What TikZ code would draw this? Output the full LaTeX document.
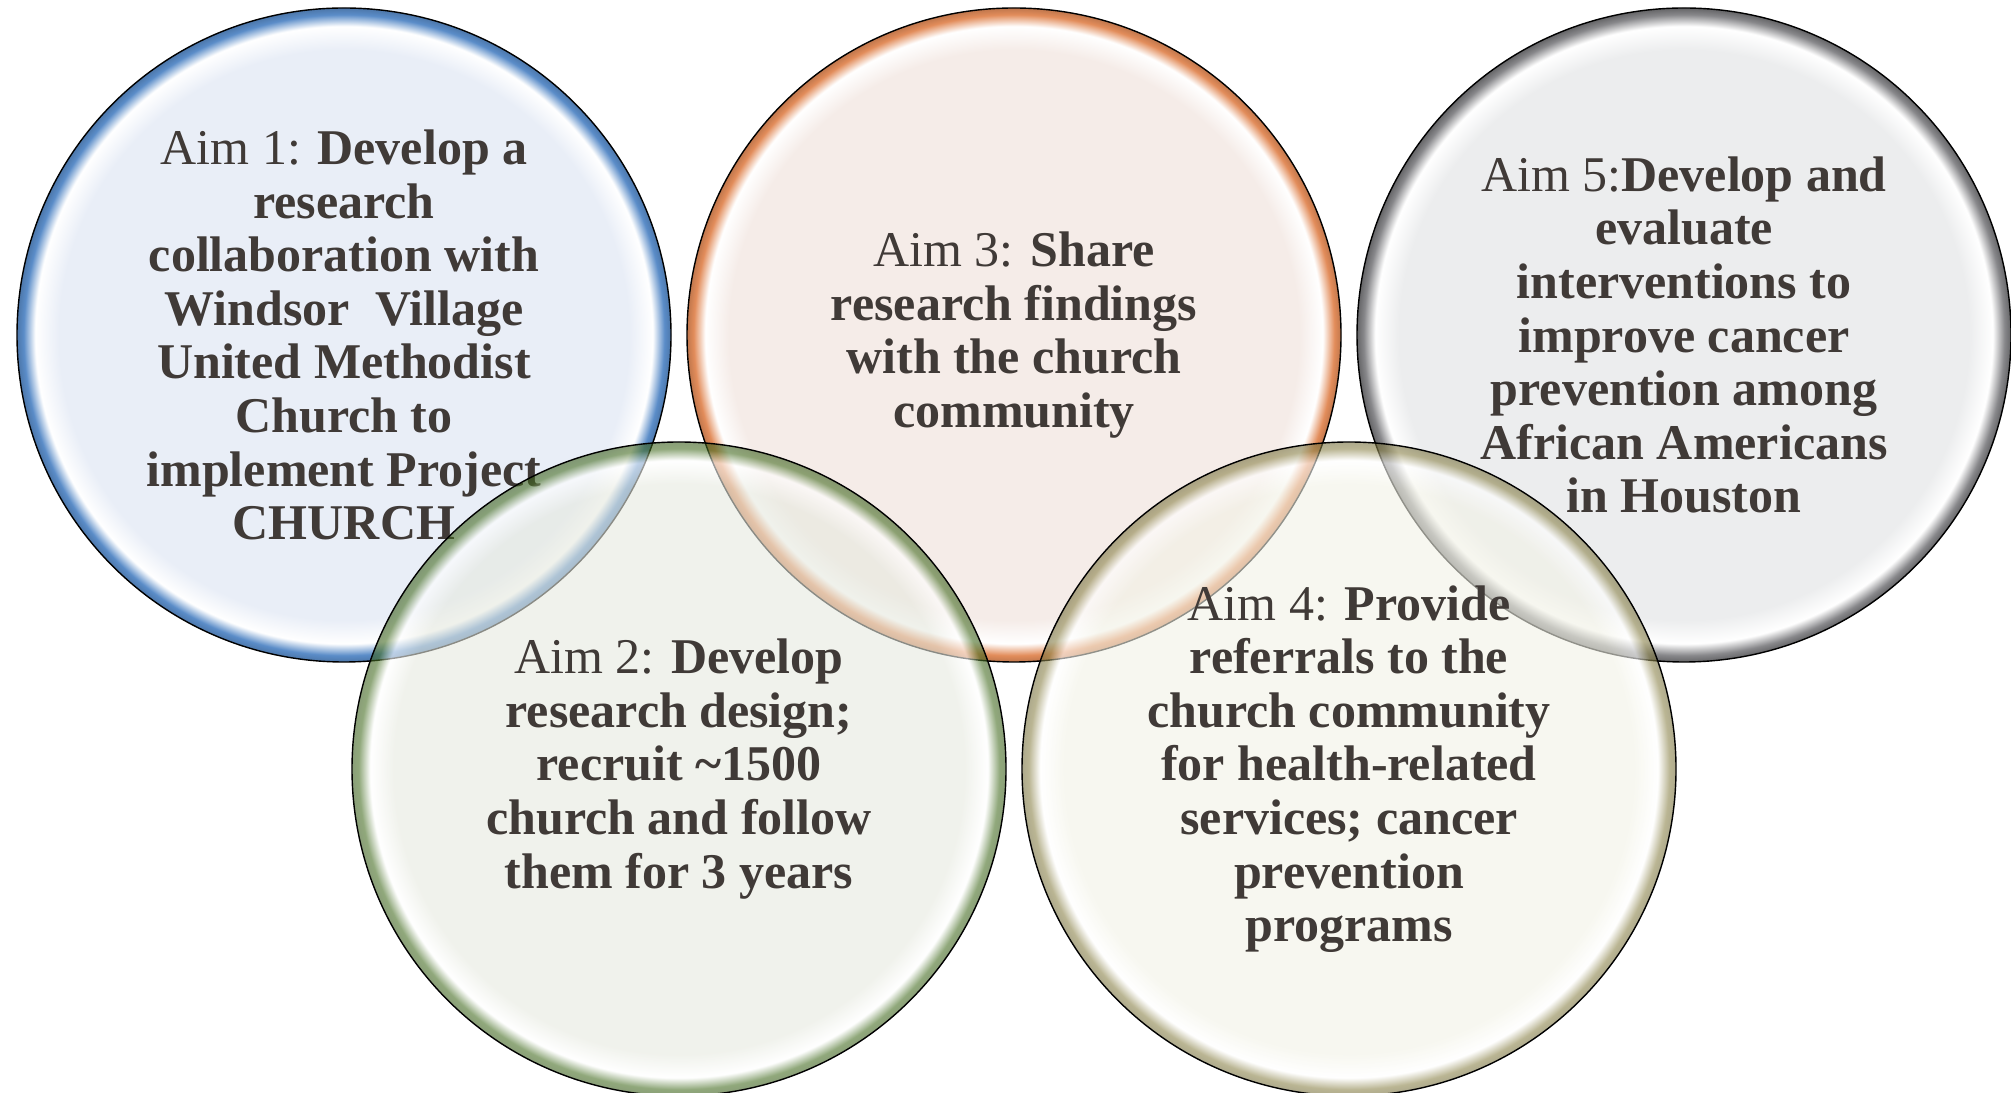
\documentclass[tikz,border=0pt]{standalone}
\usepackage{fontspec}
\setmainfont{Liberation Serif}
\usetikzlibrary{positioning}

\definecolor{aimtext}{RGB}{64,58,55}
\definecolor{blueF}{RGB}{233,238,247}
\definecolor{blueR}{RGB}{90,140,200}
\definecolor{orangeF}{RGB}{245,236,232}
\definecolor{orangeR}{RGB}{226,140,90}
\definecolor{greyF}{RGB}{236,237,238}
\definecolor{greyR}{RGB}{135,135,138}
\definecolor{greenF}{RGB}{230,233,223}
\definecolor{greenR}{RGB}{70,110,35}
\definecolor{oliveF}{RGB}{242,242,230}
\definecolor{oliveR}{RGB}{140,132,75}

% bubble shadings: flat inside, white glint, coloured rim (edge of circle at 25bp)
\pgfdeclareradialshading{blueball}{\pgfpoint{0bp}{0bp}}{color(0bp)=(blueF); color(21.8bp)=(blueF); color(23.6bp)=(white); color(24.5bp)=(blueR); color(25bp)=(blueR!85!black); color(50bp)=(blueR!85!black)}
\pgfdeclareradialshading{orangeball}{\pgfpoint{0bp}{0bp}}{color(0bp)=(orangeF); color(21.8bp)=(orangeF); color(23.6bp)=(white); color(24.5bp)=(orangeR); color(25bp)=(orangeR!85!black); color(50bp)=(orangeR!85!black)}
\pgfdeclareradialshading{greyball}{\pgfpoint{0bp}{0bp}}{color(0bp)=(greyF); color(21.8bp)=(greyF); color(23.6bp)=(white); color(24.5bp)=(greyR); color(25bp)=(greyR!75!black); color(50bp)=(greyR!75!black)}
\pgfdeclareradialshading{greenball}{\pgfpoint{0bp}{0bp}}{color(0bp)=(greenF); color(21.8bp)=(greenF); color(23.6bp)=(white); color(24.5bp)=(greenR); color(25bp)=(greenR!85!black); color(50bp)=(greenR!85!black)}
\pgfdeclareradialshading{oliveball}{\pgfpoint{0bp}{0bp}}{color(0bp)=(oliveF); color(21.8bp)=(oliveF); color(23.6bp)=(white); color(24.5bp)=(oliveR); color(25bp)=(oliveR!85!black); color(50bp)=(oliveR!85!black)}

\begin{document}
\begin{tikzpicture}
    %defining some styles
    [
        x=0.5pt, y=0.5pt,
        aim/.style={circle, draw=black, line width=0.7pt, minimum size=327pt, inner sep=0pt,
            align=center, text=aimtext, font=\fontsize{25}{26.8}\selectfont\bfseries},
        front/.style={aim, fill opacity=0.6, draw opacity=1, text opacity=1},
    ]
    \useasboundingbox (0,0) rectangle (2011,1092);
    % upper row
    \node at (344,757) [aim, shading=blueball] (aim1)
        {\mdseries Aim 1: \bfseries Develop a\\research\\collaboration with\\Windsor\ \ Village\\United Methodist\\Church to\\implement Project\\CHURCH};
    \node at (1014,757) [aim, shading=orangeball] (aim3)
        {\mdseries Aim 3: \bfseries Share\\research findings\\with the church\\community};
    \node at (1684,757) [aim, shading=greyball] (aim5)
        {\mdseries Aim 5:\bfseries Develop and\\evaluate\\interventions to\\improve cancer\\prevention among\\African Americans\\in Houston};
    % lower row
    \node at (679,323) [front, shading=greenball] (aim2)
        {\mdseries Aim 2: \bfseries Develop\\research design;\\recruit \textasciitilde1500\\church and follow\\them for 3 years};
    \node at (1349,323) [front, shading=oliveball] (aim4)
        {\mdseries Aim 4: \bfseries Provide\\referrals to the\\church community\\for health-related\\services; cancer\\prevention\\programs};
\end{tikzpicture}
\end{document}
